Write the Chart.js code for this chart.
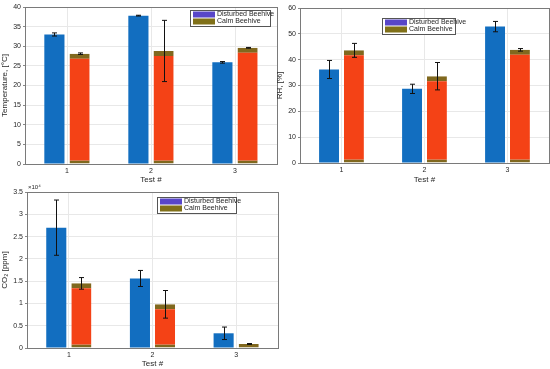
<!DOCTYPE html>
<html>
<head>
<meta charset="utf-8">
<script src="https://cdn.jsdelivr.net/npm/chart.js@4/dist/chart.umd.min.js"></script>
<style>
  html, body { margin: 0; padding: 0; background: #fff; }
  body { width: 550px; height: 369px; position: relative; overflow: hidden; }
  .box { position: absolute; }
</style>
</head>
<body>
<div class="box" style="left:0;top:0;width:282px;height:185px;"><canvas id="temp-chart"></canvas></div>
<div class="box" style="left:275px;top:0;width:275px;height:185px;"><canvas id="rh-chart"></canvas></div>
<div class="box" style="left:0;top:180px;width:282px;height:189px;"><canvas id="co2-chart"></canvas></div>
<script>
// --- Data ---
const tests = ['1', '2', '3'];
const seriesNames = ['Disturbed Beehive', 'Calm Beehive'];

const tempDisturbed = [33.0, 37.8, 25.9];
const tempDisturbedErr = [0.4, 0.1, 0.2];
const tempCalm = [28.1, 28.8, 29.6];
const tempCalmErr = [0.2, 7.8, 0.1];

const rhDisturbed = [36.2, 28.7, 52.8];
const rhDisturbedErr = [3.5, 1.8, 2.0];
const rhCalm = [43.6, 33.6, 43.8];
const rhCalmErr = [2.7, 5.3, 0.5];

// CO2 in units of 10^4 ppm
const co2Disturbed = [2.70, 1.56, 0.33];
const co2DisturbedErr = [0.62, 0.18, 0.14];
const co2Calm = [1.45, 0.98, 0.09];
const co2CalmErr = [0.13, 0.31, 0.01];

// --- Style ---
const blueFill = 'rgb(18,110,192)';
const orangeFill = 'rgb(244,66,22)';
const olive = 'rgb(128,104,30)';
const legendBlue = 'rgb(88,70,200)';
const legendOlive = 'rgb(128,112,24)';
const tickFont = { family: 'Liberation Sans, Arial, sans-serif', size: 7 };
const titleFont = { family: 'Liberation Sans, Arial, sans-serif', size: 8 };

// error bars + box + legend, drawn with the chart's own scales
const extrasPlugin = {
    id: 'extras',
    afterDatasetsDraw(chart, args, opts) {
        const ctx = chart.ctx;
        const yScale = chart.scales.y;
        ctx.save();
        ctx.strokeStyle = '#111';
        ctx.lineWidth = 1;
        chart.data.datasets.forEach((ds, di) => {
            const meta = chart.getDatasetMeta(di);
            meta.data.forEach((bar, i) => {
                const v = ds.data[i];
                const e = ds.errors[i];
                const x = Math.round(bar.x) + 0.5;
                const yTop = yScale.getPixelForValue(v + e);
                const yBot = yScale.getPixelForValue(v - e);
                ctx.beginPath();
                ctx.moveTo(x, yTop); ctx.lineTo(x, yBot);
                ctx.moveTo(x - 2.5, yTop); ctx.lineTo(x + 2.5, yTop);
                ctx.moveTo(x - 2.5, yBot); ctx.lineTo(x + 2.5, yBot);
                ctx.stroke();
            });
        });
        ctx.restore();
    },
    afterDraw(chart, args, opts) {
        const ctx = chart.ctx;
        const a = chart.chartArea;
        ctx.save();
        // box
        ctx.strokeStyle = '#7a7a7a';
        ctx.lineWidth = 1;
        ctx.strokeRect(Math.round(a.left) + 0.5, Math.round(a.top) + 0.5,
            Math.round(a.right - a.left), Math.round(a.bottom - a.top));
        // legend
        const lx = Math.round(opts.lx), ly = Math.round(opts.ly);
        const lw = opts.lw, lh = 16;
        ctx.fillStyle = '#fff';
        ctx.fillRect(lx, ly, lw, lh);
        ctx.strokeStyle = '#555';
        ctx.strokeRect(lx + 0.5, ly + 0.5, lw, lh);
        ctx.font = '7px Liberation Sans, Arial, sans-serif';
        ctx.textBaseline = 'middle';
        [legendBlue, legendOlive].forEach((c, k) => {
            const yy = ly + 4.5 + k * 7;
            ctx.fillStyle = c;
            ctx.fillRect(lx + 3, yy - 3, 22, 6);
            ctx.fillStyle = '#262626';
            ctx.fillText(seriesNames[k], lx + 27, yy);
        });
        if (opts.exponent) {
            ctx.font = '6px Liberation Sans, Arial, sans-serif';
            ctx.fillStyle = '#262626';
            ctx.textBaseline = 'alphabetic';
            ctx.fillText('\u00d710\u2074', a.left + 1, a.top - 3);
        }
        ctx.restore();
    }
};

function makeChart(id, dis, disErr, calm, calmErr, yMax, yStep, yTitle, yWidth, pad, xHeight, legend) {
    const ctx = document.getElementById(id).getContext('2d');
    return new Chart(ctx, {
        type: 'bar',
        data: {
            labels: tests,
            datasets: [{
                label: seriesNames[0],
                data: dis,
                errors: disErr,
                backgroundColor: blueFill,
                borderColor: 'rgb(40,70,170)',
                borderWidth: 0
            }, {
                label: seriesNames[1],
                data: calm,
                errors: calmErr,
                backgroundColor: orangeFill,
                borderColor: olive,
                borderWidth: { top: 5, bottom: 3, left: 0, right: 0 },
                borderSkipped: false
            }]
        },
        options: {
            responsive: true,
            maintainAspectRatio: false,
            animation: false,
            categoryPercentage: 0.6,
            barPercentage: 0.8,
            layout: { padding: pad },
            plugins: {
                legend: { display: false },
                tooltip: { enabled: false },
                extras: legend
            },
            scales: {
                x: {
                    grid: { color: '#e8e8e8', offset: false, drawTicks: false },
                    border: { display: false },
                    ticks: { font: tickFont, color: '#262626', padding: 3 },
                    title: { display: true, text: 'Test #', font: titleFont, color: '#262626', padding: 0 },
                    afterFit: s => { s.height = xHeight; }
                },
                y: {
                    min: 0,
                    max: yMax,
                    grid: { color: '#e8e8e8', drawTicks: true, tickLength: 2, tickColor: '#888' },
                    border: { display: false },
                    ticks: {
                        stepSize: yStep, font: tickFont, color: '#262626', padding: 2,
                        callback: v => String(+v.toFixed(2))
                    },
                    title: { display: true, text: yTitle, font: titleFont, color: '#262626', padding: 0 },
                    afterFit: s => { s.width = yWidth; }
                }
            }
        },
        plugins: [extrasPlugin]
    });
}

makeChart('temp-chart', tempDisturbed, tempDisturbedErr, tempCalm, tempCalmErr,
    40, 5, 'Temperature, [\u00b0C]', 25, { top: 7, right: 5, left: 0, bottom: 0 }, 21,
    { lx: 190, ly: 10, lw: 80 });

makeChart('rh-chart', rhDisturbed, rhDisturbedErr, rhCalm, rhCalmErr,
    60, 10, 'RH, [%]', 25, { top: 8, right: 1, left: 0, bottom: 0 }, 22,
    { lx: 107, ly: 18, lw: 73 });

makeChart('co2-chart', co2Disturbed, co2DisturbedErr, co2Calm, co2CalmErr,
    3.5, 0.5, 'CO\u2082 [ppm]', 27, { top: 12, right: 4, left: 0, bottom: 0 }, 21,
    { lx: 157, ly: 17, lw: 79, exponent: true });
</script>
</body>
</html>
